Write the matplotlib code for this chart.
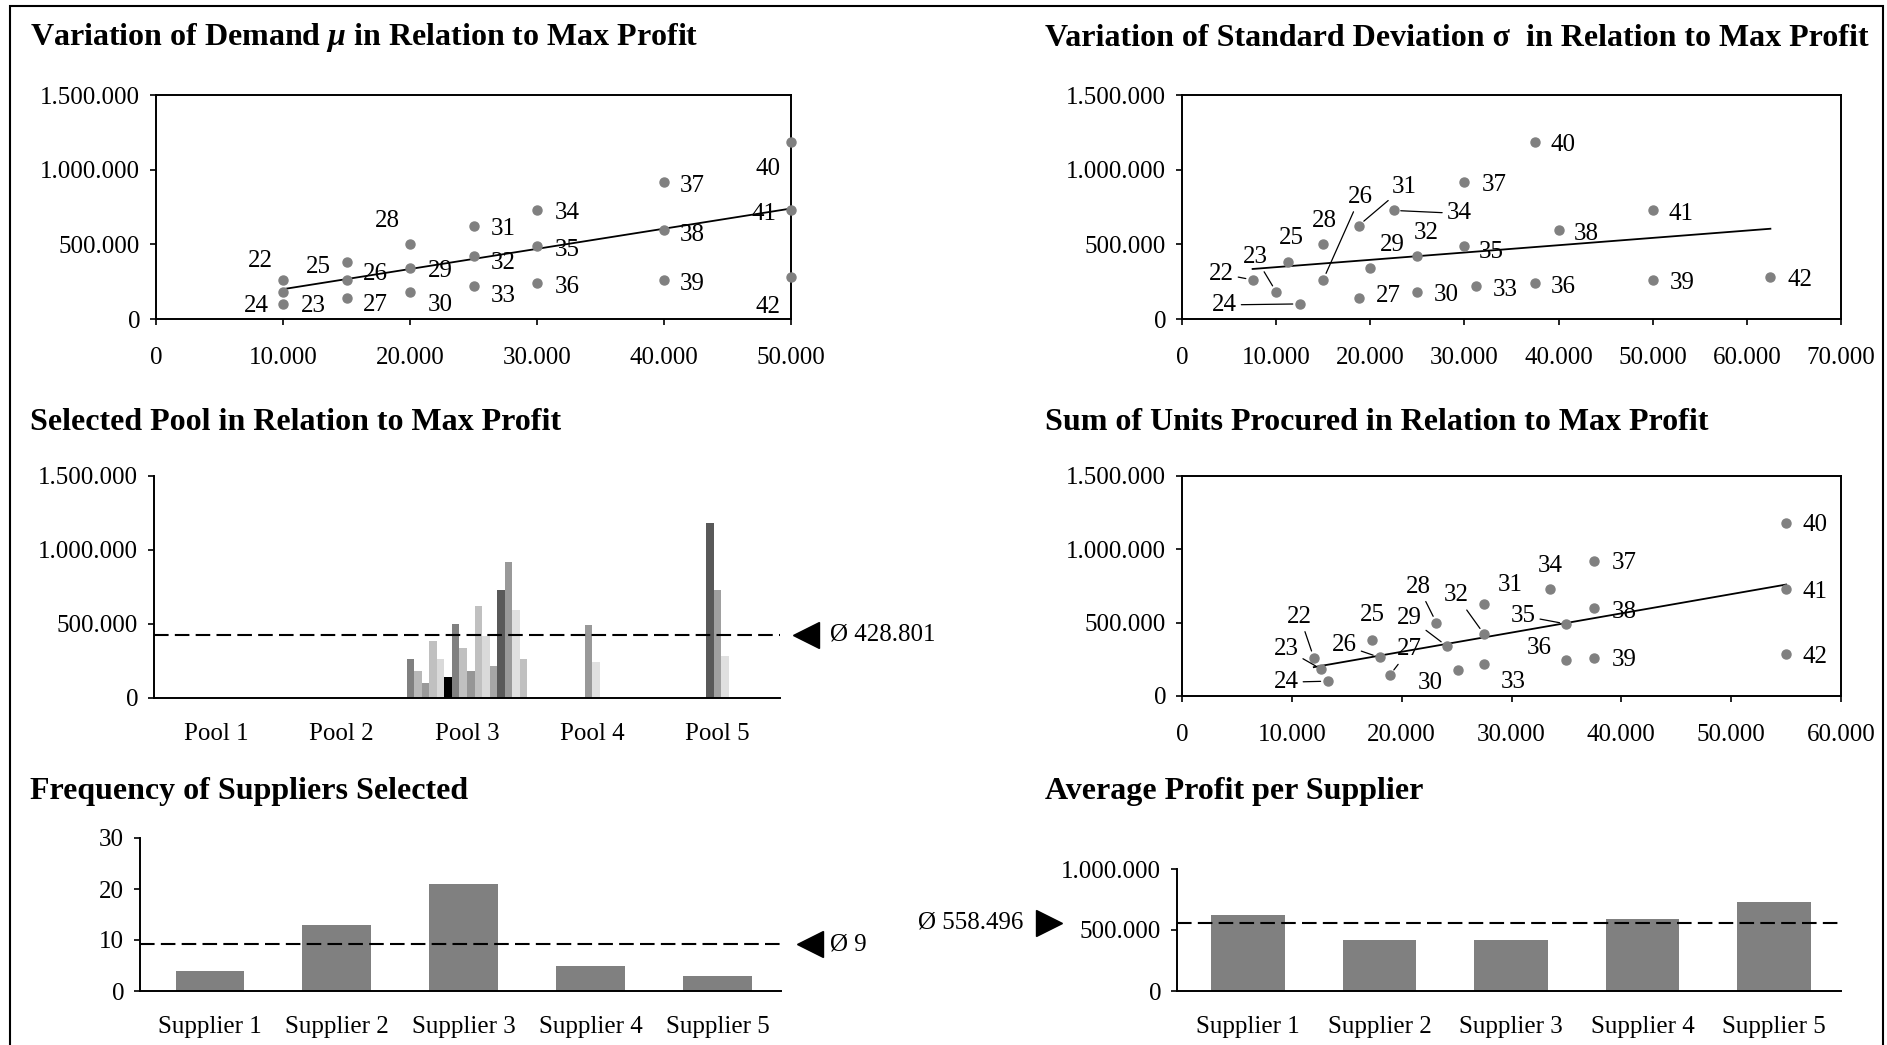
import numpy as np
import matplotlib
matplotlib.use("Agg")
import matplotlib.pyplot as plt
import matplotlib.transforms as mtransforms
from matplotlib.ticker import FuncFormatter, MultipleLocator
from matplotlib.patches import Rectangle

plt.rcParams['font.family'] = ['Liberation Serif', 'DejaVu Serif']
plt.rcParams['mathtext.fontset'] = 'custom'
plt.rcParams['mathtext.it'] = 'Liberation Serif:italic:bold'
plt.rcParams['mathtext.rm'] = 'Liberation Serif:bold'
plt.rcParams['mathtext.bf'] = 'Liberation Serif:bold'

# ---- data ----
instances = [22, 23, 24, 25, 26, 27, 28, 29, 30, 31, 32, 33, 34, 35, 36, 37, 38, 39, 40, 41, 42]
demand_mu = [10000, 10000, 10000, 15000, 15000, 15000, 20000, 20000, 20000, 25000, 25000,
             25000, 30000, 30000, 30000, 40000, 40000, 40000, 50000, 50000, 50000]
std_sigma = [7500, 10000, 12500, 11250, 15000, 18750, 15000, 20000, 25000, 18750, 25000,
             31250, 22500, 30000, 37500, 30000, 40000, 50000, 37500, 50000, 62500]
units_procured = [12000, 12700, 13250, 17300, 18000, 18900, 23150, 24100, 25150, 27500, 27500,
                  27500, 33500, 35000, 35000, 37500, 37500, 37500, 55000, 55000, 55000]
max_profit = [262000, 182000, 101000, 384000, 263000, 140000, 501000, 341000, 180000, 625000, 422000,
              218000, 727000, 491000, 244000, 920000, 597000, 262000, 1182000, 729000, 284000]
selected_pool = [3, 3, 3, 3, 3, 3, 3, 3, 3, 3, 3, 3, 3, 4, 4, 3, 3, 3, 5, 5, 5]
pool_names = ["Pool 1", "Pool 2", "Pool 3", "Pool 4", "Pool 5"]
pool_avg = 428801

suppliers = ["Supplier 1", "Supplier 2", "Supplier 3", "Supplier 4", "Supplier 5"]
supplier_freq = [4, 13, 21, 5, 3]
supplier_profit = [627000, 421000, 421000, 590000, 733000]
profit_avg = 558496

# ---- styles ----
bar_colors = ['#808080', '#b8b8b8', '#999999', '#c0c0c0', '#d9d9d9', '#000000', '#808080',
              '#c0c0c0', '#969696', '#c0c0c0', '#dadada', '#a6a6a6', '#595959', '#999999',
              '#e0e0e0', '#999999', '#e0e0e0', '#c0c0c0', '#595959', '#a0a0a0', '#e0e0e0']
PT = 18
TS = 23
DOT = '#808080'

# label offsets in pixels (dx, dy), and which labels get a leader line
off_mu = [(-23, 19), (30, -14), (-27, -2), (-28, -5), (29, 6), (29, -7), (-23, 23), (30, -3),
          (30, -13), (30, -3), (30, -7), (30, -10), (30, -3), (30, -4), (30, -4), (28, -4),
          (28, -5), (28, -4), (-23, -27), (-27, -4), (-23, -30)]
off_sigma = [(-31, 6), (-21, 35), (-75, -1), (3, 24), (37, 83), (30, 2), (1, 23), (22, 23),
             (29, -3), (46, 39), (9, 23), (29, -4), (65, -3), (27, -6), (28, -4), (30, -3),
             (28, -4), (29, -3), (28, -3), (28, -4), (30, -3)]
lead_sigma = [22, 23, 24, 26, 31, 34]
off_units = [(-14, 41), (-35, 20), (-41, -1), (0, 25), (-35, 12), (20, 26), (-18, 36), (-37, 28),
             (-28, -13), (26, 19), (-28, 39), (29, -18), (0, 23), (-43, 8), (-27, 12), (30, -2),
             (30, -4), (30, -2), (29, -2), (29, -3), (29, -3)]
lead_units = [22, 23, 24, 26, 27, 28, 29, 32, 35]

W, H = 1887, 1045
fig = plt.figure(figsize=(W / 100, H / 100), dpi=100)


def fmt(v, pos=None):
    return f"{int(round(v)):,}".replace(",", ".")


def box(l, r, t, b):
    return [l / W, 1 - b / H, (r - l) / W, (b - t) / H]


def style_axes(ax, full_box, cat=False):
    for s in ['top', 'right']:
        ax.spines[s].set_visible(full_box)
    for s in ax.spines.values():
        s.set_linewidth(1.4)
    ax.tick_params(axis='y', direction='out', length=4.5, width=1.2, labelsize=PT, pad=7)
    if cat:
        ax.tick_params(axis='x', length=0, labelsize=PT, pad=18)
    else:
        ax.tick_params(axis='x', direction='out', length=4.5, width=1.2, labelsize=PT, pad=16)
    ax.yaxis.set_major_formatter(FuncFormatter(fmt))


def scatter_panel(ax, xs, offsets, leaders, xmax):
    ax.plot(xs, max_profit, 'o', color=DOT, ms=6.5, clip_on=False, zorder=3)
    k, c = np.polyfit(xs, max_profit, 1)
    xl = np.array([min(xs), max(xs)])
    ax.plot(xl, k * xl + c, color='black', lw=1.3, zorder=2)
    for i, lab in enumerate(instances):
        props = dict(arrowstyle='-', color='black', lw=0.9, shrinkA=1, shrinkB=5) if lab in leaders else None
        ax.annotate(str(lab), (xs[i], max_profit[i]), xytext=offsets[i], textcoords='offset pixels',
                    ha='center', va='center', fontsize=PT, arrowprops=props, annotation_clip=False)
    ax.set_xlim(0, xmax)
    ax.set_ylim(0, 1500000)
    ax.xaxis.set_major_locator(MultipleLocator(10000))
    ax.yaxis.set_major_locator(MultipleLocator(500000))
    ax.xaxis.set_major_formatter(FuncFormatter(fmt))
    style_axes(ax, True)


def avg_marker(ax, xfrac, yval, marker, text, tx, ha):
    tr = mtransforms.blended_transform_factory(ax.transAxes, ax.transData)
    ax.plot([xfrac], [yval], marker=marker, color='black', ms=19, transform=tr, clip_on=False)
    ax.text(tx, yval, text, transform=tr, ha=ha, va='center', fontsize=PT)


def avg_line(ax, yval):
    ax.axhline(yval, color='black', lw=1.5, linestyle=(0, (7, 3)), zorder=4)


# top left: demand
ax1 = fig.add_axes(box(156, 791, 95, 319))
scatter_panel(ax1, demand_mu, off_mu, [], 50000)

# top right: standard deviation
ax2 = fig.add_axes(box(1182, 1841, 95, 319))
scatter_panel(ax2, std_sigma, off_sigma, lead_sigma, 70000)

# middle left: selected pool
ax3 = fig.add_axes(box(154, 780, 476, 698))
w = 0.06
for p in range(1, 6):
    idx = [i for i in range(len(instances)) if selected_pool[i] == p]
    for k, i in enumerate(idx):
        x = (p - 1) + (k - (len(idx) - 1) / 2) * w
        ax3.bar(x, max_profit[i], width=w, color=bar_colors[i], zorder=2)
avg_line(ax3, pool_avg)
ax3.set_xlim(-0.5, 4.5)
ax3.set_ylim(0, 1500000)
ax3.set_xticks(range(5))
ax3.set_xticklabels(pool_names)
ax3.yaxis.set_major_locator(MultipleLocator(500000))
style_axes(ax3, False, cat=True)
avg_marker(ax3, 1.0415, pool_avg, '<', "Ø " + fmt(pool_avg), 1.08, 'left')

# middle right: units procured
ax4 = fig.add_axes(box(1182, 1841, 476, 696))
scatter_panel(ax4, units_procured, off_units, lead_units, 60000)

# bottom left: supplier frequency
ax5 = fig.add_axes(box(140, 781, 838, 991))
ax5.bar(range(5), supplier_freq, width=0.54, color='#808080', zorder=2)
freq_mean = np.mean(supplier_freq)
avg_line(ax5, freq_mean)
ax5.set_xlim(-0.55, 4.5)
ax5.set_ylim(0, 30)
ax5.set_xticks(range(5))
ax5.set_xticklabels(suppliers)
ax5.yaxis.set_major_locator(MultipleLocator(10))
style_axes(ax5, False, cat=True)
avg_marker(ax5, 1.0445, freq_mean, '<', f"Ø {freq_mean:.0f}", 1.077, 'left')

# bottom right: average profit per supplier
ax6 = fig.add_axes(box(1177, 1841, 869, 991))
ax6.bar(range(5), supplier_profit, width=0.56, color='#808080', zorder=2)
avg_line(ax6, profit_avg)
ax6.set_xlim(-0.54, 4.51)
ax6.set_ylim(0, 1000000)
ax6.set_xticks(range(5))
ax6.set_xticklabels(suppliers)
ax6.yaxis.set_major_locator(MultipleLocator(500000))
style_axes(ax6, False, cat=True)
avg_marker(ax6, -0.193, profit_avg, '>', "Ø " + fmt(profit_avg), -0.232, 'right')

# titles
fig.text(30 / W, 1 - 38 / H, r"Variation of Demand $\mu$ in Relation to Max Profit",
         fontsize=TS, fontweight='bold', va='center')
fig.text(1045 / W, 1 - 38 / H, "Variation of Standard Deviation σ  in Relation to Max Profit",
         fontsize=TS, fontweight='bold', va='center')
fig.text(30 / W, 1 - 423 / H, "Selected Pool in Relation to Max Profit",
         fontsize=TS, fontweight='bold', va='center')
fig.text(1045 / W, 1 - 423 / H, "Sum of Units Procured in Relation to Max Profit",
         fontsize=TS, fontweight='bold', va='center')
fig.text(30 / W, 1 - 792 / H, "Frequency of Suppliers Selected",
         fontsize=TS, fontweight='bold', va='center')
fig.text(1045 / W, 1 - 792 / H, "Average Profit per Supplier",
         fontsize=TS, fontweight='bold', va='center')

# outer frame
fig.add_artist(Rectangle((10 / W, -0.02), (1883 - 10) / W, 1 - 6 / H + 0.02,
                         transform=fig.transFigure, fill=False, lw=1.5, ec='black', clip_on=False))

fig.savefig("out.png", dpi=100)
